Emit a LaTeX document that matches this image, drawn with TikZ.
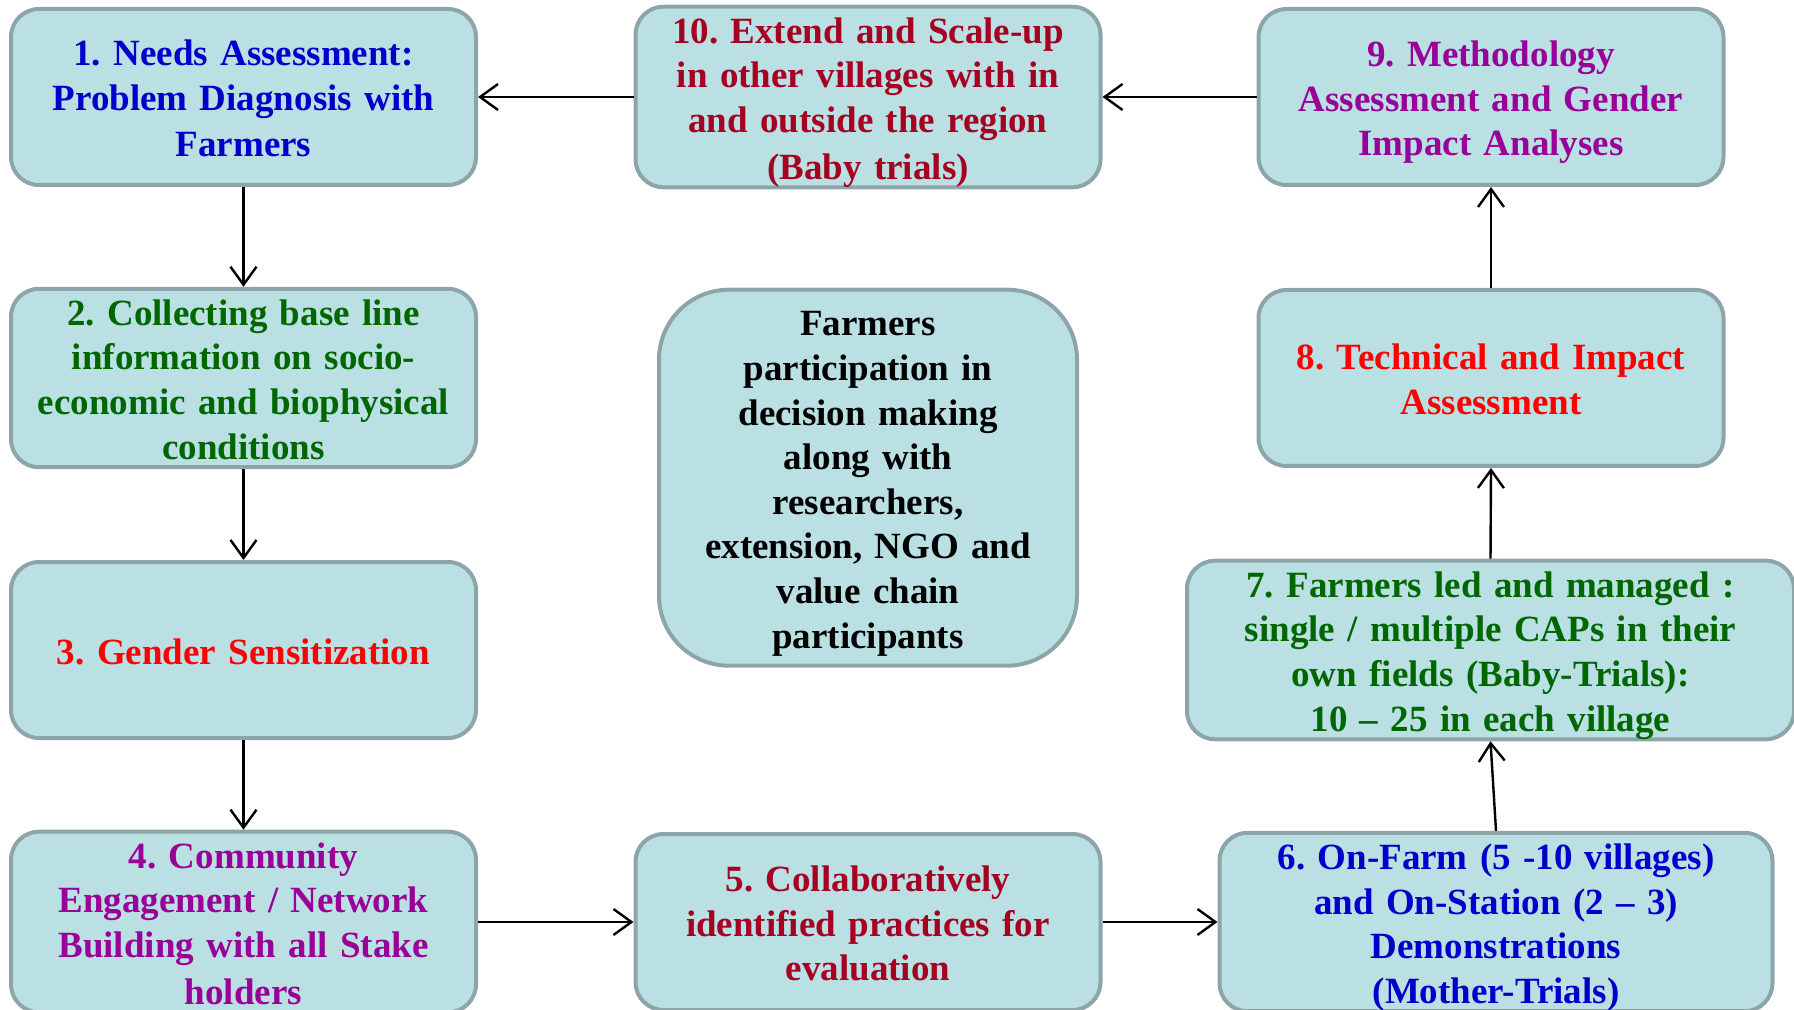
\documentclass[tikz,border=0pt]{standalone}
\usepackage{fontspec}
\setmainfont{Liberation Serif}
\usetikzlibrary{arrows.meta}
\definecolor{boxfill}{RGB}{186,224,227}
\definecolor{boxline}{RGB}{141,165,168}
\definecolor{cblue}{RGB}{0,0,204}
\definecolor{cgreen}{RGB}{0,102,0}
\definecolor{cred}{RGB}{255,0,0}
\definecolor{cpurple}{RGB}{153,0,153}
\definecolor{ccrimson}{RGB}{165,0,33}
\newcommand\mystrut{\rule[-4.0pt]{0pt}{22.3pt}}
\begin{document}
\begin{tikzpicture}[x=0.5pt,y=-0.5pt,
  stepbox/.style={draw=boxline, line width=2pt, fill=boxfill, rounded corners=14pt,
    minimum width=232.5pt, minimum height=88pt, inner sep=0pt,
    text width=222pt,
    font=\bfseries\fontsize{18.5}{22.3}\selectfont,
    execute at begin node={\centering\frenchspacing\mystrut}, execute at end node=\mystrut},
  arr/.style={line width=1.2pt, -{Straight Barb[length=9pt,width=13pt]}}]
\useasboundingbox (0,0) rectangle (1794,1010);
\node[stepbox, text=cblue] (n1) at (243.5,97) {1. Needs Assessment:\\Problem Diagnosis with\\Farmers};
\node[stepbox, text=ccrimson] (n10) at (868,97) {10. Extend and Scale-up\\in other villages with in\\and outside the region\\(Baby trials)};
\node[stepbox, text=cpurple] (n9) at (1491,97) {9. Methodology\\Assessment and Gender\\Impact Analyses};
\node[stepbox, text=cgreen] (n2) at (243.5,378) {2. Collecting base line\\information on socio-\\economic and biophysical\\conditions};
\node[stepbox, text=black, minimum width=209pt, text width=199pt, minimum height=188pt, rounded corners=35pt] (c) at (868,477.7) {Farmers\\participation in\\decision making\\along with\\researchers,\\extension, NGO and\\value chain\\participants};
\node[stepbox, text=cred] (n8) at (1491,378) {8. Technical and Impact\\Assessment};
\node[stepbox, text=cred] (n3) at (243.5,650) {3. Gender Sensitization};
\node[stepbox, text=cgreen, minimum width=303.5pt, text width=293pt] (n7) at (1490.5,650) {7. Farmers led and managed :\\single / multiple CAPs in their\\own fields (Baby-Trials):\\10 – 25 in each village};
\node[stepbox, text=cpurple] (n4) at (243.5,922) {4. Community\\Engagement / Network\\Building with all Stake\\holders};
\node[stepbox, text=ccrimson] (n5) at (868,922) {5. Collaboratively\\identified practices for\\evaluation};
\node[stepbox, text=cblue, minimum width=276.5pt, text width=266pt] (n6) at (1496,922) {6. On-Farm (5 -10 villages)\\and On-Station (2 – 3)\\Demonstrations\\(Mother-Trials)};
\draw[arr] (n10) -- (n1);
\draw[arr] (n9) -- (n10);
\draw[arr] (n1) -- (n2);
\draw[arr] (n2) -- (n3);
\draw[arr] (n3) -- (n4);
\draw[arr] (n4) -- (n5);
\draw[arr] (n5) -- (n6);
\draw[arr] (n6.north) -- (n7.south);
\draw[arr] (n7.north) -- (n8.south);
\draw[arr] (n8) -- (n9);
\end{tikzpicture}
\end{document}
